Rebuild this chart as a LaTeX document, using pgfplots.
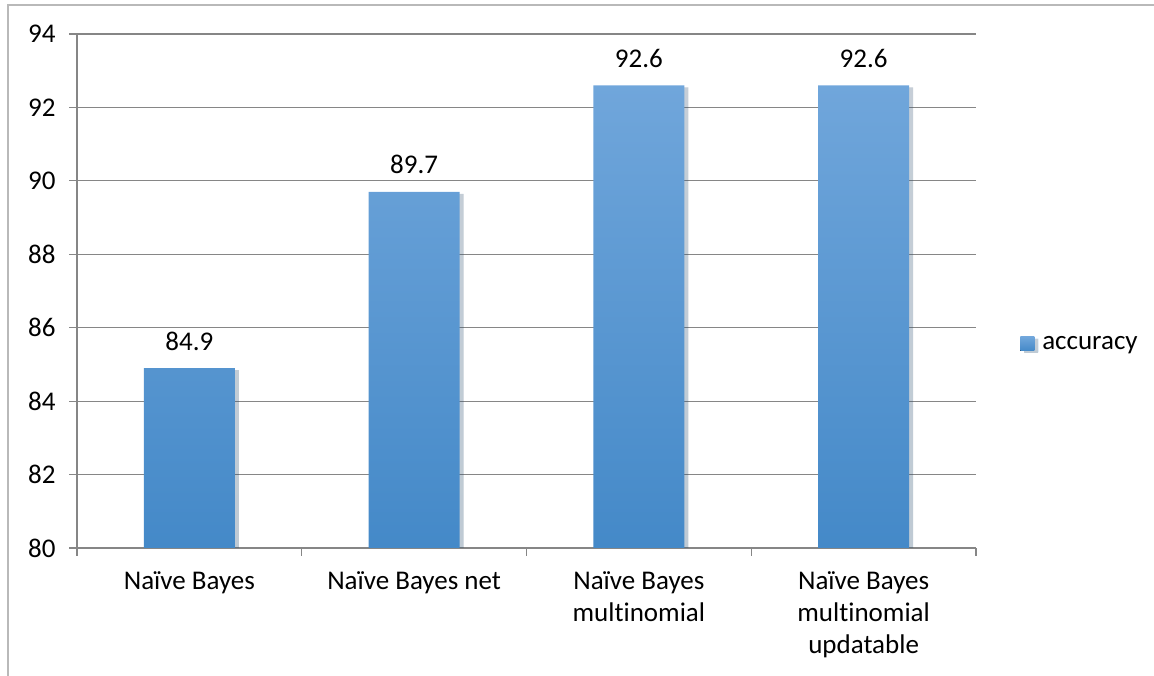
\documentclass[border=0pt]{standalone}
\usepackage{fontspec}
\setmainfont{Carlito}[Ligatures={NoCommon}]
\usepackage{pgfplots}
\pgfplotsset{compat=1.18}
\usetikzlibrary{shadows}
\definecolor{gridc}{RGB}{134,134,134}
\definecolor{framec}{RGB}{185,185,185}
\definecolor{bartop}{RGB}{112,166,219}
\definecolor{barmid}{RGB}{85,156,222}
\definecolor{barbot}{RGB}{68,137,200}
\newcommand{\cf}{\fontsize{27bp}{32bp}\selectfont}
\begin{document}
\begin{tikzpicture}[x=1bp,y=1bp]
\useasboundingbox (0,0) rectangle (1154,676);
\draw[framec, line width=1.5bp] (8,0) -- (8,671) -- (1154,671);
\begin{axis}[
  at={(77bp,128bp)}, anchor=south west,
  scale only axis, width=899bp, height=514bp,
  xmin=-0.5, xmax=3.5, ymin=80, ymax=94,
  ytick={80,82,...,94},
  xtick={-0.5,0.5,1.5,2.5,3.5},
  xticklabels={},
  extra x ticks={0,1,2,3},
  extra x tick labels={Naïve Bayes, Naïve Bayes net, {Naïve Bayes\\multinomial}, {Naïve Bayes\\multinomial\\updatable}},
  extra x tick style={major tick length=0pt, xticklabel style={align=center, anchor=north, yshift=-20bp}},
  yticklabel style={xshift=-10bp},
  axis lines=left,
  axis line style={gridc, line width=1.2bp, -},
  ymajorgrids,
  major grid style={gridc, line width=1.2bp},
  tick align=outside,
  tick pos=left,
  major tick length=8bp,
  tick style={gridc, line width=1.2bp},
  /pgf/number format/assume math mode=true,
  ticklabel style={font=\cf, text=black},
  legend style={at={(1.049,0.397)}, anchor=west, draw=none, fill=none, inner sep=0pt,
    font=\cf, nodes={inner sep=0pt}, /tikz/every odd column/.append style={column sep=8bp}},
  legend image code/.code={\fill[top color=bartop, bottom color=barbot] (0bp,-7bp) rectangle (14bp,7bp);},
]
\addplot[ybar, bar width=91bp, draw=none, top color=bartop, middle color=barmid, bottom color=barbot,
  drop shadow={shadow xshift=4bp, shadow yshift=-2bp, fill=black, opacity=0.16}]
  coordinates {(0,84.9) (1,89.7) (2,92.6) (3,92.6)};
\addlegendentry{accuracy}
\addplot[draw=none, mark=none, forget plot,
  nodes near coords={\pgfmathprintnumber[fixed, fixed zerofill, precision=1, assume math mode=true]{\pgfplotspointmeta}},
  nodes near coords style={anchor=base, yshift=18bp, font=\cf, text=black}]
  coordinates {(0,84.9) (1,89.7) (2,92.6) (3,92.6)};
\end{axis}
\end{tikzpicture}
\end{document}
